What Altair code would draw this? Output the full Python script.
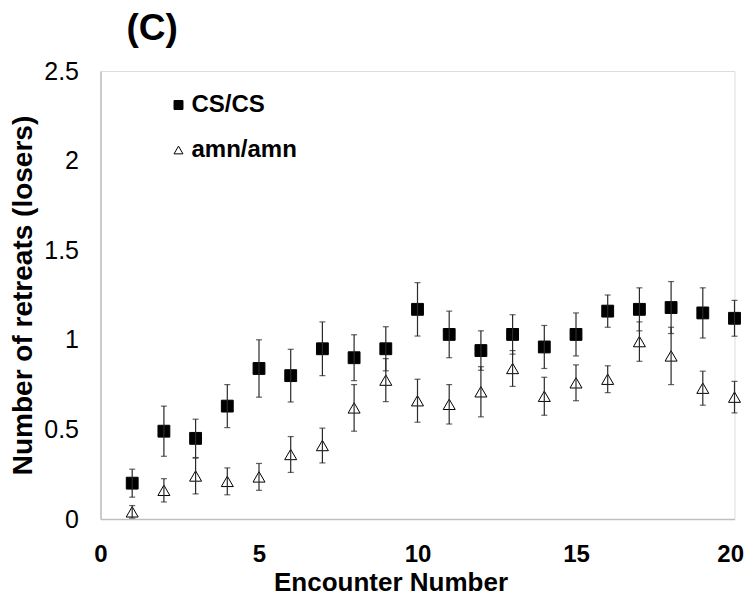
import altair as alt
import pandas as pd

encounter = list(range(1, 21))
cs_mean = [0.20, 0.49, 0.45, 0.63, 0.84, 0.80, 0.95, 0.90, 0.95, 1.17,
           1.03, 0.94, 1.03, 0.96, 1.03, 1.16, 1.17, 1.18, 1.15, 1.12]
cs_se = [0.078, 0.14, 0.107, 0.12, 0.16, 0.147, 0.15, 0.128, 0.123, 0.149,
         0.13, 0.11, 0.11, 0.12, 0.12, 0.09, 0.12, 0.145, 0.14, 0.10]
amn_mean = [0.04, 0.16, 0.24, 0.21, 0.235, 0.36, 0.41, 0.62, 0.775, 0.66,
            0.64, 0.71, 0.84, 0.685, 0.76, 0.78, 0.99, 0.91, 0.73, 0.68]
amn_se = [0.035, 0.065, 0.10, 0.075, 0.075, 0.10, 0.097, 0.13, 0.12, 0.12,
          0.11, 0.14, 0.10, 0.106, 0.10, 0.075, 0.11, 0.16, 0.095, 0.088]
groups = ["CS/CS", "amn/amn"]

rows = []
for g, m, s in [(groups[0], cs_mean, cs_se), (groups[1], amn_mean, amn_se)]:
    for x, mv, sv in zip(encounter, m, s):
        rows.append({"x": x, "group": g, "mean": mv, "lo": max(mv - sv, 0), "hi": mv + sv})
df = pd.DataFrame(rows)

FONT = "Liberation Sans"
xscale = alt.Scale(domain=[0, 20], nice=False, padding=0, zero=True)
yscale = alt.Scale(domain=[0, 2.5], nice=False, padding=0)

xenc = alt.X("x:Q", scale=xscale,
             axis=alt.Axis(values=[0, 5, 10, 15, 20], title="Encounter Number",
                           grid=False, ticks=False, tickSize=0, labelFlush=False,
                           labelAlign={"condition": {"test": "datum.value == 20", "value": "right"},
                                       "value": "center"},
                           labelOffset={"condition": {"test": "datum.value == 20", "value": 9},
                                        "value": 0},
                           labelFontSize=24, labelFontWeight="bold", labelPadding=23,
                           labelColor="black", labelFont=FONT,
                           titleFontSize=26, titleFontWeight="bold", titleFont=FONT,
                           titleColor="black", titleX=290, titleY=71,
                           titleBaseline="alphabetic",
                           domainColor="#bfbfbf", domainWidth=1.5))
yenc = alt.Y("mean:Q", scale=yscale,
             axis=alt.Axis(values=[0, 0.5, 1, 1.5, 2, 2.5], format="~g",
                           title="Number of retreats (losers)",
                           grid=False, ticks=False, tickSize=0, labelFlush=False,
                           labelFontSize=25, labelPadding=22, labelColor="black",
                           labelFont=FONT,
                           titleFontSize=28, titleFontWeight="bold", titleFont=FONT,
                           titleColor="black", titleX=-69, titleY=224,
                           titleAngle=-90, titleBaseline="alphabetic",
                           domainColor="#bfbfbf", domainWidth=1.5))

bars = alt.Chart(df).mark_rule(color="#2a2a2a", strokeWidth=1.2).encode(
    x=alt.X("x:Q", scale=xscale), y=alt.Y("lo:Q", scale=yscale), y2="hi:Q")
caps_hi = alt.Chart(df).mark_tick(color="#222222", thickness=1.2, size=6, orient="horizontal").encode(
    x=alt.X("x:Q", scale=xscale), y=alt.Y("hi:Q", scale=yscale))
caps_lo = alt.Chart(df).mark_tick(color="#222222", thickness=1.2, size=6, orient="horizontal").encode(
    x=alt.X("x:Q", scale=xscale), y=alt.Y("lo:Q", scale=yscale))

leg = dict(title=None, orient="none", legendX=66, legendY=22,
           labelFontSize=24, labelFontWeight="bold", labelFont=FONT, labelColor="black",
           symbolSize=80, symbolStrokeWidth=1, labelOffset=1,
           rowPadding=21, padding=0)

points = alt.Chart(df).mark_point(filled=False, opacity=1, strokeWidth=1).encode(
    x=xenc, y=yenc,
    shape=alt.Shape("group:N", scale=alt.Scale(domain=groups, range=["square", "triangle-up"]),
                    legend=alt.Legend(**leg)),
    fill=alt.Fill("group:N", scale=alt.Scale(domain=groups, range=["black", "white"]),
                  legend=alt.Legend(**leg)),
    stroke=alt.Stroke("group:N", scale=alt.Scale(domain=groups, range=["black", "black"]),
                      legend=alt.Legend(**leg)),
    size=alt.condition(alt.datum.group == "CS/CS", alt.value(140), alt.value(144)),
)

chart = alt.layer(points, bars, caps_hi, caps_lo).properties(
    width=634, height=448,
    title=alt.TitleParams("(C)", anchor="start", frame="group", dx=26, fontSize=37,
                          fontWeight="bold", font=FONT, color="black",
                          baseline="top", offset=11),
    autosize=alt.AutoSizeParams(type="none"),
    padding={"left": 92.5, "top": 63, "right": 9.5, "bottom": 78},
).configure_view(stroke=None).configure_scale(continuousPadding=0).configure(background="white")

chart.save("out.html", embed_options={"renderer": "svg", "actions": False})
